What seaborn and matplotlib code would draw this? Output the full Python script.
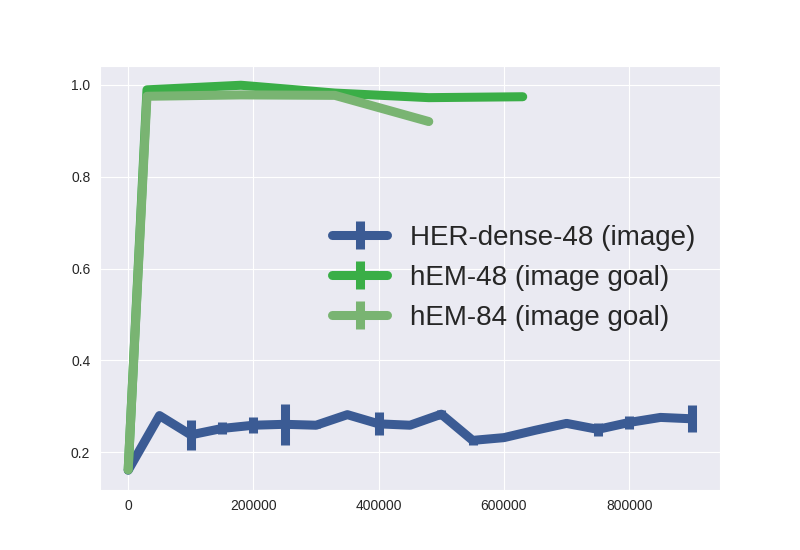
import matplotlib
matplotlib.use("Agg")
import matplotlib.pyplot as plt
import seaborn as sns
import numpy as np

sns.set_style("darkgrid")
plt.rcParams['font.family'] = ['Liberation Sans', 'DejaVu Sans']

her_x = [0, 50000, 100000, 150000, 200000, 250000, 300000, 350000, 400000, 450000,
         500000, 550000, 600000, 650000, 700000, 750000, 800000, 850000, 900000]
her_y = [0.161, 0.280, 0.238, 0.252, 0.259, 0.261, 0.259, 0.282, 0.262, 0.259,
         0.283, 0.226, 0.232, 0.248, 0.263, 0.250, 0.265, 0.276, 0.273]
her_err = [0.0, 0.0, 0.033, 0.013, 0.018, 0.045, 0.007, 0.0, 0.025, 0.0,
           0.010, 0.010, 0.0, 0.005, 0.0, 0.014, 0.014, 0.0, 0.029]

hem48_x = [0, 30000, 180000, 330000, 480000, 630000]
hem48_y = [0.162, 0.989, 0.999, 0.982, 0.972, 0.974]

hem84_x = [0, 30000, 180000, 330000, 480000]
hem84_y = [0.162, 0.975, 0.978, 0.977, 0.920]

labels = ["HER-dense-48 (image)", "hEM-48 (image goal)", "hEM-84 (image goal)"]
colors = ["#3b5b94", "#3aae47", "#79b472"]

fig, ax = plt.subplots(figsize=(8, 5.5), dpi=100)
lw = 6.5
ax.errorbar(her_x, her_y, yerr=her_err, color=colors[0], lw=lw, elinewidth=lw,
            capsize=0, label=labels[0])
ax.errorbar(hem48_x, hem48_y, yerr=np.zeros(len(hem48_y)), color=colors[1], lw=lw,
            elinewidth=lw, capsize=0, label=labels[1])
ax.errorbar(hem84_x, hem84_y, yerr=np.zeros(len(hem84_y)), color=colors[2], lw=lw,
            elinewidth=lw, capsize=0, label=labels[2])

ax.set_xticks([0, 200000, 400000, 600000, 800000])
ax.set_yticks([0.2, 0.4, 0.6, 0.8, 1.0])
ax.ticklabel_format(style='plain', axis='x')
ax.legend(loc='center right', fontsize=20, frameon=False)

fig.savefig("out.png", dpi=100)
